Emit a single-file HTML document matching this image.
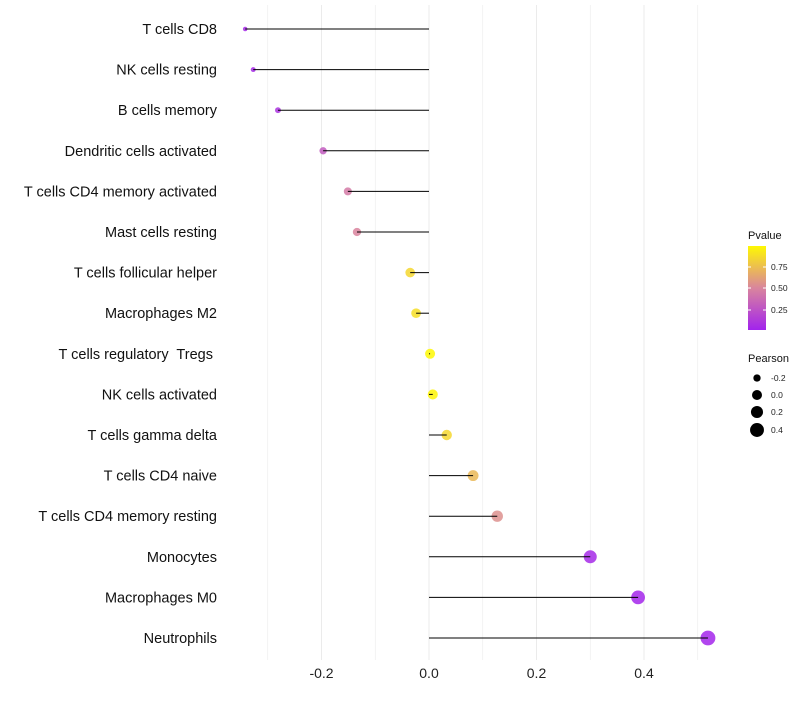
<!DOCTYPE html>
<html><head><meta charset="utf-8"><style>
body{margin:0;background:#fff;font-family:"Liberation Sans",sans-serif}
text{white-space:pre}
</style></head><body>
<svg id="c" width="800" height="700" xmlns="http://www.w3.org/2000/svg"></svg>
<script>
const categories=["T cells CD8","NK cells resting","B cells memory","Dendritic cells activated","T cells CD4 memory activated","Mast cells resting","T cells follicular helper","Macrophages M2","T cells regulatory  Tregs ","NK cells activated","T cells gamma delta","T cells CD4 naive","T cells CD4 memory resting","Monocytes","Macrophages M0","Neutrophils"];
const pearson=[-0.342,-0.327,-0.281,-0.197,-0.151,-0.134,-0.035,-0.024,0.002,0.007,0.033,0.082,0.127,0.300,0.389,0.519];
const pvalue=[0.05,0.05,0.1,0.3,0.45,0.5,0.85,0.88,0.99,0.98,0.85,0.72,0.55,0.05,0.03,0.03];
const xTicks=[-0.2,0,0.2,0.4];
const xTickLabels=["-0.2","0.0","0.2","0.4"];
const minorTicks=[-0.3,-0.1,0.1,0.3,0.5];
const NS="http://www.w3.org/2000/svg";
const svg=document.getElementById('c');
const x=v=>429+v*537.5;
const y=i=>29+i*40.6;
const rad=v=>Math.sqrt(Math.max(25+58*v,3.5));
function lerp(a,b,t){return a.map((c,i)=>Math.round(c+(b[i]-c)*t));}
function col(p){const s=[[160,32,240],[217,132,158],[255,250,0]];const c=p<0.5?lerp(s[0],s[1],p/0.5):lerp(s[1],s[2],(p-0.5)/0.5);return `rgb(${c})`;}
function mk(t,a,p){const e=document.createElementNS(NS,t);for(const k in a)e.setAttribute(k,a[k]);(p||svg).appendChild(e);return e;}
[...xTicks,...minorTicks].forEach(v=>{const l=mk('line',{x1:x(v),x2:x(v),y1:5,y2:660,stroke:'#ebebeb','stroke-width':xTicks.includes(v)?1:0.6});

});
xTicks.forEach((v,i)=>{const t=mk('text',{x:x(v),y:678,'text-anchor':'middle','font-size':14,fill:'#222'});t.textContent=xTickLabels[i];

});
categories.forEach((c,i)=>{
const t=mk('text',{x:217,y:y(i)+5,'text-anchor':'end','font-size':14.5,fill:'#111'});t.textContent=c;


const p=mk('circle',{cx:x(pearson[i]),cy:y(i),r:rad(pearson[i]),fill:col(pvalue[i]),opacity:0.85});


const l=mk('line',{x1:x(0),x2:x(pearson[i]),y1:y(i),y2:y(i),stroke:'#000','stroke-width':1});


});
const g=mk('g',{});
const defs=mk('defs',{},svg);const lg=mk('linearGradient',{id:'gr',x1:0,y1:1,x2:0,y2:0},defs);
[0,0.25,0.5,0.75,1].forEach(o=>mk('stop',{offset:o,'stop-color':col(0.017+o*0.973)},lg));
let t=mk('text',{x:748,y:239,'font-size':11,fill:'#111'},g);t.textContent='Pvalue';
mk('rect',{x:748,y:246,width:18,height:84,fill:'url(#gr)'},g);
[[0.75,267],[0.5,288],[0.25,310]].forEach(([v,yy])=>{mk('line',{x1:748,x2:751,y1:yy,y2:yy,stroke:'#fff'},g);mk('line',{x1:763,x2:766,y1:yy,y2:yy,stroke:'#fff'},g);
const s=mk('text',{x:771,y:yy+3,'font-size':8.5,fill:'#222'},g);s.textContent=v.toFixed(2);});
t=mk('text',{x:748,y:362,'font-size':11,fill:'#111'},g);t.textContent='Pearson';
[[-0.2,378],[0,395],[0.2,412],[0.4,430]].forEach(([v,yy])=>{mk('circle',{cx:757,cy:yy,r:rad(v),fill:'#000'},g);
const s=mk('text',{x:771,y:yy+3,'font-size':8.5,fill:'#222'},g);s.textContent=v.toFixed(1);});
</script>
</body></html>
